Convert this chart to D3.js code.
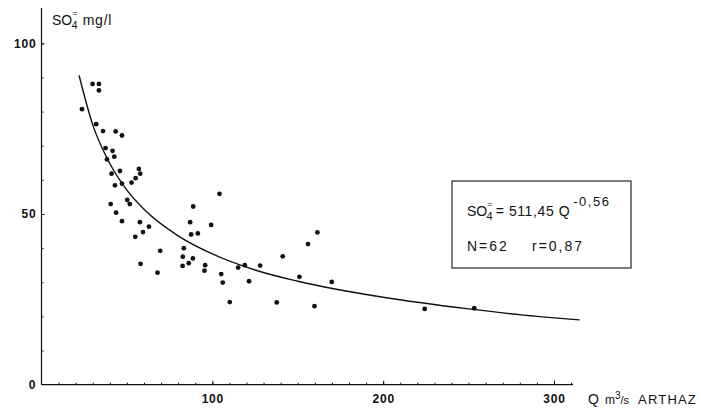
<!DOCTYPE html>
<head>
  <meta charset="utf-8">
  <style>
    body { margin: 0; background: #fff; }
    text { font-family: "Liberation Sans", Arial, sans-serif; fill: #111; }
  </style>
  <script src="https://cdn.jsdelivr.net/npm/d3@7/dist/d3.min.js"></script>
</head>
<body>
  <script>

    // discharge Q (m3/s) and sulphate (mg/l)
    const qValues = [23.7, 29.9, 33.6, 33.6, 32.0, 36.0, 43.4, 47.1, 37.5, 41.6,
      42.6, 38.3, 45.9, 57.0, 57.8, 41.0, 55.1, 52.7, 47.1, 43.0,
      50.2, 51.7, 40.5, 88.8, 43.7, 47.1, 57.6, 59.4, 62.9, 54.9,
      69.5, 58.0, 67.9, 104.2, 87.0, 99.3, 87.6, 91.5, 83.3, 82.7,
      88.6, 86.2, 82.6, 95.8, 95.4, 161.5, 156.0, 141.2, 119.0, 115.1,
      128.0, 105.2, 106.1, 121.5, 151.0, 169.9, 110.2, 137.7, 159.8, 224.3,
      253.3];
    const so4Values = [80.7, 88.1, 88.1, 86.2, 76.3, 74.3, 74.2, 73.0, 69.3, 68.5,
      66.8, 66.0, 62.6, 63.2, 61.8, 61.8, 60.5, 59.2, 58.9, 58.4,
      54.1, 52.9, 52.9, 52.2, 50.4, 47.9, 47.6, 44.7, 46.3, 43.3,
      39.2, 35.4, 32.8, 55.9, 47.6, 46.8, 44.0, 44.3, 40.0, 37.5,
      37.0, 35.6, 34.8, 35.0, 33.4, 44.6, 41.2, 37.6, 35.0, 34.3,
      34.9, 32.4, 29.9, 30.3, 31.6, 30.1, 24.2, 24.1, 23.0, 22.2,
      22.4];

    // fitted curve, points
    const curveQ = [22, 30, 40, 50, 60, 80, 100, 125, 150, 200, 250, 290, 315];
    const curveSO4 = [90.6, 76.1, 64.8, 57.0, 51.4, 43.6, 38.3, 33.6, 30.3, 25.6, 22.2, 20.0, 19.0];

    const xMajor = [100, 200, 300];
    const yMajor = [0, 50, 100];

    const w = 701, h = 408;

    const svg = d3.select('body').append('svg')
      .attr('width', w)
      .attr('height', h);

    const x = d3.scaleLinear().domain([0, 300]).range([41.5, 554]);
    const y = d3.scaleLinear().domain([0, 100]).range([384.7, 43.3]);

    const labelStyle = g => g.selectAll('text')
      .attr('font-size', 12).attr('font-weight', 'bold')
      .attr('letter-spacing', 0.8)
      .attr('font-family', '"Liberation Sans", Arial, sans-serif')
      .attr('fill', '#111');

    // axis lines
    svg.append('line')
      .attr('x1', x(0)).attr('x2', 573)
      .attr('y1', y(0)).attr('y2', y(0))
      .attr('stroke', '#111').attr('stroke-width', 1.2);
    svg.append('line')
      .attr('x1', x(0)).attr('x2', x(0))
      .attr('y1', y(0)).attr('y2', 8)
      .attr('stroke', '#111').attr('stroke-width', 1.2);

    // x ticks
    const xAxisMinor = d3.axisBottom(x)
      .tickValues(d3.range(10, 320, 10))
      .tickSize(-2)
      .tickFormat('');
    svg.append('g')
      .attr('transform', `translate(0,${y(0)})`)
      .call(xAxisMinor)
      .call(g => g.select('.domain').remove());

    const xAxis = d3.axisBottom(x)
      .tickValues(xMajor)
      .tickSize(-4)
      .tickPadding(10)
      .tickFormat(d3.format('d'));
    svg.append('g')
      .attr('transform', `translate(0,${y(0)})`)
      .call(xAxis)
      .call(g => g.select('.domain').remove())
      .call(labelStyle);

    // y ticks
    const yAxisMinor = d3.axisLeft(y)
      .tickValues(d3.range(10, 110, 10))
      .tickSize(-2)
      .tickFormat('');
    svg.append('g')
      .attr('transform', `translate(${x(0)},0)`)
      .call(yAxisMinor)
      .call(g => g.select('.domain').remove());

    const yAxis = d3.axisLeft(y)
      .tickValues(yMajor.filter(d => d > 0))
      .tickSize(-3)
      .tickPadding(5)
      .tickFormat(d3.format('d'));
    svg.append('g')
      .attr('transform', `translate(${x(0)},0)`)
      .call(yAxis)
      .call(g => g.select('.domain').remove())
      .call(labelStyle);

    svg.selectAll('.tick line').attr('stroke', '#111');

    svg.append('text')
      .attr('x', x(0) - 6).attr('y', y(0) + 4)
      .attr('text-anchor', 'end')
      .attr('font-size', 12).attr('font-weight', 'bold')
      .text('0');

    // axis titles
    const yTitle = svg.append('text')
      .attr('x', 52).attr('y', 25)
      .attr('font-size', 14);
    yTitle.append('tspan').text('SO');
    yTitle.append('tspan').attr('font-size', 9).attr('dy', -9).text('=');
    yTitle.append('tspan').attr('font-size', 11).attr('dx', -6).attr('dy', 13).text('4');
    yTitle.append('tspan').attr('dy', -4).attr('dx', 5).attr('letter-spacing', 0.8).text('mg/l');

    const xTitle = svg.append('text')
      .attr('x', 588).attr('y', 404)
      .attr('font-size', 14);
    xTitle.append('tspan').text('Q');
    xTitle.append('tspan').attr('dx', 6).attr('font-size', 12).text('m');
    xTitle.append('tspan').attr('font-size', 10).attr('dy', -5).text('3');
    xTitle.append('tspan').attr('font-size', 11).attr('dy', 5).text('/s');
    xTitle.append('tspan').attr('dx', 9).attr('font-size', 13).attr('letter-spacing', 1.2).text('ARTHAZ');

    // fitted curve
    const curveData = curveQ.map((q, i) => [q, curveSO4[i]]);
    const line = d3.line()
      .x(d => x(d[0]))
      .y(d => y(d[1]))
      .curve(d3.curveMonotoneX);
    svg.append('path')
      .datum(curveData)
      .attr('d', line)
      .attr('fill', 'none')
      .attr('stroke', '#111')
      .attr('stroke-width', 1.4);

    // points
    const points = qValues.map((q, i) => [q, so4Values[i]]);
    svg.selectAll('circle')
      .data(points)
      .enter()
      .append('circle')
      .attr('cx', d => x(d[0]))
      .attr('cy', d => y(d[1]))
      .attr('r', 2.4)
      .attr('fill', '#111');

    // equation box
    svg.append('rect')
      .attr('x', 452).attr('y', 181)
      .attr('width', 179).attr('height', 87)
      .attr('fill', 'none')
      .attr('stroke', '#111')
      .attr('stroke-width', 1.1);

    const eq = svg.append('text')
      .attr('x', 467).attr('y', 216)
      .attr('font-size', 14);
    eq.append('tspan').text('SO');
    eq.append('tspan').attr('font-size', 9).attr('dy', -9).text('=');
    eq.append('tspan').attr('font-size', 11).attr('dx', -6).attr('dy', 13).text('4');
    eq.append('tspan').attr('dy', -4).attr('dx', 3).attr('letter-spacing', 0.6).text('= 511,45  Q');
    eq.append('tspan').attr('font-size', 13).attr('dy', -10).attr('dx', 3)
      .attr('letter-spacing', 1.5).text('-0,56');

    svg.append('text')
      .attr('x', 467).attr('y', 251)
      .attr('font-size', 14).attr('letter-spacing', 2)
      .text('N=62');
    svg.append('text')
      .attr('x', 532).attr('y', 251)
      .attr('font-size', 14).attr('letter-spacing', 2)
      .text('r=0,87');

  </script>
</body>
